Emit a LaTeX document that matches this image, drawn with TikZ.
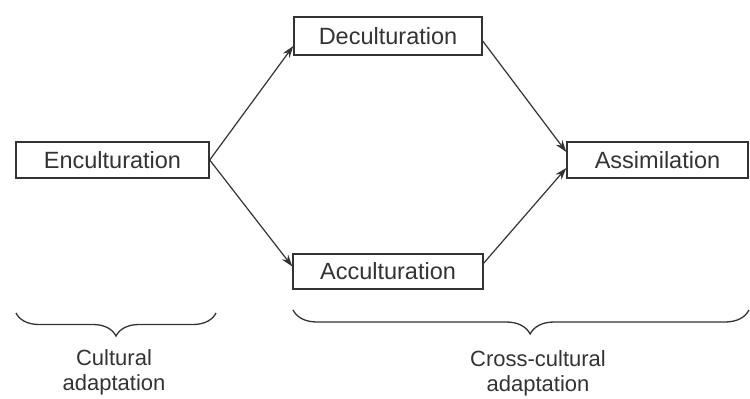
\documentclass[tikz,border=0pt]{standalone}
\usepackage{fontspec}
\setmainfont{Liberation Sans}
\usetikzlibrary{arrows.meta,decorations.pathreplacing}
\definecolor{inkgray}{HTML}{333333}

\tikzset{
	stage/.style={draw=inkgray, line width=1.4pt, text=inkgray, minimum height=36pt,
		inner sep=0pt, font=\fontsize{23.5}{26}\selectfont},
	flow/.style={draw=inkgray, line width=1.2pt, -{Stealth[length=12pt,width=8pt]}},
	groupbrace/.style={draw=inkgray, line width=1.3pt, decorate},
	grouplabel/.style={text=inkgray, align=center, font=\fontsize{22}{25}\selectfont}
}

\begin{document}
\begin{tikzpicture}[x=1pt, y=-1pt]
		\useasboundingbox (0, 0) rectangle (750, 399);
		
		\node[stage, minimum width=193pt] (encu) at (112.5, 160) {Enculturation};
		\node[stage, minimum width=188pt, minimum height=38pt] (decu) at (388, 36) {Deculturation};
		\node[stage, minimum width=190pt, minimum height=35pt] (accu) at (388, 271.5) {Acculturation};
		\node[stage, minimum width=181pt] (assim) at (657.5, 160) {Assimilation};
		
		\draw[flow] (encu.east) -- (decu.186);
		\draw[flow] (encu.east) -- (accu.177);
		\draw[flow] (decu.357) -- (assim.175);
		\draw[flow] (accu.5) -- (assim.185);
		
		% braces below the flow
		\coordinate (cl) at (16, 313);
		\coordinate (cr) at (216, 313);
		\coordinate (xl) at (293, 310);
		\coordinate (xr) at (749, 310);
		\draw[groupbrace, decoration={brace, mirror, amplitude=23pt}] (cl) -- (cr);
		\draw[groupbrace, decoration={brace, mirror, amplitude=24pt, aspect=0.52}] (xl) -- (xr);
		
		\node[grouplabel] (cultural) at (114, 372) {Cultural\\adaptation};
		\node[grouplabel] (cross) at (538, 373) {Cross-cultural\\adaptation};
	\end{tikzpicture}
\end{document}
